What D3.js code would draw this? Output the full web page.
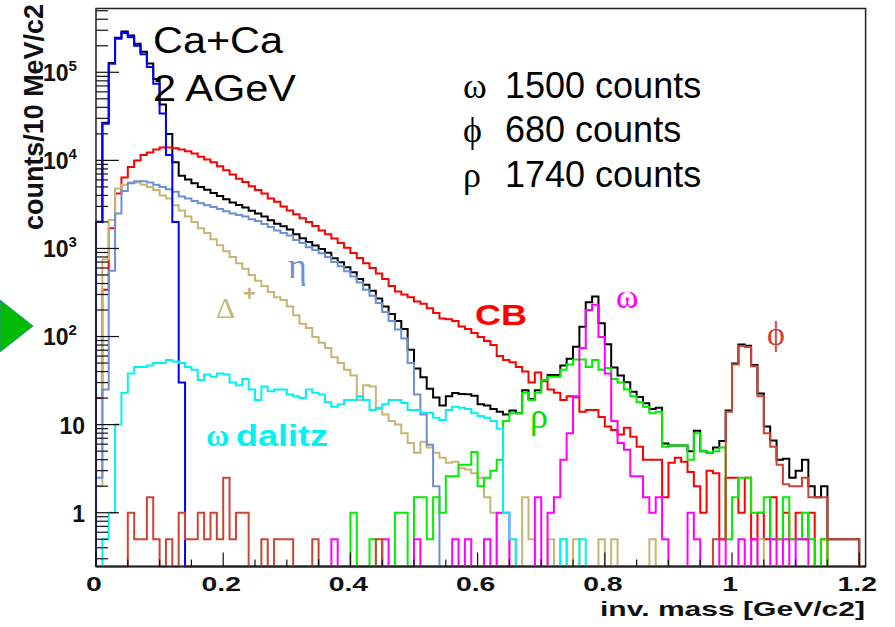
<!DOCTYPE html>
<html>
<head>
<meta charset="utf-8">
<script src="https://cdn.jsdelivr.net/npm/d3@7"></script>
<style>
  body { margin: 0; background: #ffffff; }
  svg { display: block; }
</style>
</head>
<body>
<svg id="chart" width="895" height="627"></svg>
<script>
// Dilepton invariant-mass cocktail, Ca+Ca at 2 AGeV, 10 MeV/c2 bins.
const binWidth = 0.01;
const nBins = 121;

const xTicks = [0, 0.2, 0.4, 0.6, 0.8, 1, 1.2];
const xTickLabels = ["0", "0.2", "0.4", "0.6", "0.8", "1", "1.2"];
const yTicks = [1, 10, 100, 1000, 10000, 100000];
const yTickBase = ["1", "10", "10", "10", "10", "10"];
const yTickExp = ["", "", "2", "3", "4", "5"];

// counts per bin; each list starts at the bin given by its *First constant
const totalFirst = 0;
const totalCounts = [
  2005, 26776, 127661, 247310, 289823, 261139, 211446, 171146, 125649, 83951,
  43050, 19955, 9552, 6681, 6046, 5493, 4983, 4638, 4256, 3929,
  3620, 3331, 3109, 2924, 2675, 2499, 2303, 2094, 1906, 1786,
  1643, 1446, 1310, 1180, 1083, 987, 892, 775, 697, 611,
  536, 450, 387, 332, 271, 220, 180, 150, 122, 71,
  43.5, 34.5, 25.5, 20.3, 16.5, 21, 22.9, 22.2, 22.1, 21.2,
  17, 16.5, 15, 14, 13, 14.5, 13.5, 24.5, 19.5, 24.5,
  32, 36.5, 36.5, 47, 56, 76.5, 129.5, 245, 284, 141.5,
  82, 44.5, 36.2, 30.2, 23.6, 20.6, 17.5, 15, 15.5, 6.1,
  5.8, 5.8, 5.8, 5, 8.5, 5, 4.8, 5.5, 6.5, 14.5,
  49.5, 81, 78.5, 47.5, 22.5, 9.5, 6.6, 4, 4.1, 2.5,
  3, 4, 2, 1.5, 2, 0.5, 0.5, 0.5, 0.5, 0.5
];

const cbFirst = 0;
const cbCounts = [
  20, 340, 1700, 4200, 6400, 8400, 10000, 11500, 12300, 13300,
  14000, 14000, 13700, 13300, 12700, 12000, 11000, 10200, 9500, 8600,
  7700, 6900, 6200, 5700, 5100, 4600, 4200, 3700, 3400, 3000,
  2700, 2450, 2200, 2000, 1800, 1600, 1450, 1300, 1150, 1020,
  890, 780, 680, 600, 520, 450, 375, 325, 300, 280,
  250, 235, 210, 185, 160, 157, 150, 130, 122, 110,
  99, 89, 80, 60, 54, 51, 45, 40, 30, 39,
  31, 25, 23, 19, 21, 20.5, 14, 14.7, 14.7, 12.2,
  9.5, 8.7, 7.7, 9.2, 7.3, 5.6, 4, 4, 4, 1.5,
  3.7, 4.2, 3.8, 2.9, 2, 1, 3, 2.8, 0.5, 2.5,
  2.5, 1, 2.5, 0.5, 1, 0.5, 1.5, 0.5, 1, 0.5,
  1, 0.5, 1, 0, 0.5
];

const deltaFirst = 0;
const deltaCounts = [
  2, 750, 2100, 4800, 5300, 5600, 5600, 5300, 5000, 4600,
  4000, 3700, 3100, 2700, 2300, 2000, 1700, 1500, 1270, 1090,
  930, 800, 680, 590, 500, 430, 375, 320, 280, 260,
  220, 175, 140, 125, 99, 85, 74, 58, 50, 42,
  36, 19, 28, 27, 15, 13, 11, 10, 8, 6.2,
  4.8, 6.4, 5.5, 4.8, 4.2, 3.7, 3.8, 3.2, 3.1, 2.8,
  2.5, 1.5, 1, 0, 0, 0.5, 0, 1.5, 0.5, 0,
  0, 0.5, 0, 0.5, 0, 0.5, 0, 0, 0, 0.5,
  0, 0.5, 0, 0, 0, 0, 0, 0.5, 0, 0,
  0, 0, 0, 0, 0, 0, 0, 0, 0, 0,
  0, 0, 0, 0, 0.5
];

const etaFirst = 0;
const etaCounts = [
  2.5, 25, 560, 2500, 4500, 5500, 5800, 5800, 5600, 5300,
  5000, 4700, 4400, 3900, 3700, 3450, 3250, 3100, 2950, 2800,
  2650, 2500, 2400, 2300, 2150, 2050, 1900, 1750, 1600, 1500,
  1400, 1250, 1150, 1030, 960, 880, 800, 700, 630, 550,
  480, 410, 340, 290, 240, 190, 150, 120, 95, 50,
  22, 13, 5.9, 2
];

const omegaDalitzFirst = 0;
const omegaDalitzCounts = [
  0, 0.5, 1, 10, 23, 38, 45, 45, 47, 50,
  50, 54, 52, 50, 45, 42, 32, 37, 35, 38,
  37, 30, 28, 33, 25, 19, 27, 24, 25, 25,
  22, 21, 20, 25, 23, 22, 18, 16, 17, 19,
  19, 21, 19, 14.7, 15.5, 17, 19, 19, 17.6, 14.7,
  14.7, 13.6, 13.6, 12, 11.3, 14.7, 16, 15.5, 15, 13.5,
  12.5, 12, 11, 9, 1, 0.5, 0, 0, 0, 0,
  0, 0, 0, 0.5, 0, 0, 0.5
];

const rhoFirst = 40;
const rhoCounts = [
  1, 0, 0, 0.5, 0, 0, 0, 1, 1, 0,
  1.5, 1.5, 0.5, 1.5, 1, 2.6, 2.6, 3.5, 3.5, 4.9,
  2, 2.5, 3, 4, 11, 13.5, 13.5, 23, 19, 23,
  32, 35, 35, 42, 48, 55, 55, 45, 54, 42,
  44, 33, 30, 25, 21, 18, 16, 13.5, 14, 5.6,
  5.8, 5.8, 5.8, 4, 8, 5, 4.8, 5, 5.5, 0.5,
  1.5, 2.5, 2.5, 1, 1, 1.5, 0.5, 0.5, 1.5, 0.5,
  0.5, 1, 0.5, 0, 0.5
];

const omegaFirst = 37;
const omegaCounts = [
  0.5, 0, 0,
  0, 0, 0, 0, 0, 0.5, 0, 0, 0, 0,
  0.5, 0, 0, 0, 0, 0, 0.5, 0, 0.5, 0,
  0, 0.5, 0, 1, 1, 0, 0, 0, 0, 1.5,
  0, 1, 1.5, 4, 8, 21, 74, 200, 230, 99,
  38, 11, 6.2, 5.2, 2.6, 2.6, 1.5, 1, 1.5, 0.5,
  0, 0, 0, 1, 0.5, 0, 0, 0, 0.5, 0,
  0, 0.5, 0, 0.5, 0, 0, 0.5, 0, 0.5, 0,
  0.5, 0.5
];

const phiFirst = 0;
const phiCounts = [
  0, 0, 0, 0, 0, 1, 0.5, 0.5, 1.5, 0.5,
  0, 0.5, 0, 1, 0.5, 0.5, 1, 0.5, 1, 0.5,
  2.5, 0.5, 1, 1, 0, 0, 0.5, 0, 0.5, 0.5,
  0.5, 0, 0, 0, 0.5, 0, 0, 0, 0, 0,
  0, 0, 0, 0, 0.5, 0, 0, 0, 0, 0,
  0, 0, 0, 0, 0, 0, 0, 0, 0, 0,
  0, 0, 0, 0, 0, 0, 0, 0, 0, 0,
  0, 0, 0, 0, 0, 0, 0, 0, 0, 0,
  0, 0, 0, 0, 0, 0, 0, 0, 0, 0,
  0, 0, 0, 0, 0, 0, 0, 0.5, 0.5, 14,
  48, 78, 76, 46, 21, 8, 5.6, 3.5, 2.1, 2,
  2, 2.5, 1.5, 1.5, 1.5, 0.5, 0.5, 0.5, 0.5, 0.5
];

const pi0First = 0;
const pi0Counts = [
  2000, 26000, 125000, 240000, 280000, 250000, 200000, 160000, 115000, 74000,
  34000, 11500, 2000, 30
];

function fullBins(first, counts) {
  const a = new Array(nBins).fill(0);
  counts.forEach((c, i) => { a[first + i] = c; });
  return a;
}

// drawing order: sum first, components over it
const histos = [
  { name: "total", color: "#000000", bins: fullBins(totalFirst, totalCounts) },
  { name: "CB", color: "#ff0000", bins: fullBins(cbFirst, cbCounts) },
  { name: "Delta", color: "#c6b673", bins: fullBins(deltaFirst, deltaCounts) },
  { name: "eta", color: "#6d8fd3", bins: fullBins(etaFirst, etaCounts) },
  { name: "rho", color: "#00f000", bins: fullBins(rhoFirst, rhoCounts) },
  { name: "pi0", color: "#0000ff", bins: fullBins(pi0First, pi0Counts) },
  { name: "omega", color: "#ff00ff", bins: fullBins(omegaFirst, omegaCounts) },
  { name: "omegaDalitz", color: "#00f2f2", bins: fullBins(omegaDalitzFirst, omegaDalitzCounts) },
  { name: "phi", color: "#cc4436", bins: fullBins(phiFirst, phiCounts) }
];

const svg = d3.select("#chart");
const W = 895, H = 627;
const plotLeft = 96, plotRight = 865.6, plotTop = 8.5, plotBottom = 566.5;

const x = d3.scaleLinear().domain([0, nBins * binWidth]).range([plotLeft, plotRight]);
const y = d3.scaleLog().domain([0.245, 5.3e5]).range([plotBottom, plotTop]);

const sans = "'Liberation Sans', Arial, Helvetica, sans-serif";
const serif = "'Liberation Serif', 'Times New Roman', serif";

svg.append("rect").attr("width", W).attr("height", H).attr("fill", "#ffffff");

// pointer marker at the left margin
svg.append("polygon")
  .attr("points", "0,300 33,326 0,352")
  .attr("fill", "#00bb00")
  .attr("stroke", "#2a8f8f")
  .attr("stroke-width", 1);

svg.append("defs").append("clipPath").attr("id", "plotClip")
  .append("rect").attr("x", plotLeft - 2).attr("y", plotTop)
  .attr("width", plotRight - plotLeft + 3).attr("height", plotBottom - plotTop + 2);

const line = d3.line();
function stepPoints(bins) {
  const pts = [[x(0), plotBottom]];
  bins.forEach((v, i) => {
    const yy = v > 0 ? y(v) : plotBottom;
    pts.push([x(i * binWidth), yy], [x((i + 1) * binWidth), yy]);
  });
  pts.push([x(bins.length * binWidth), plotBottom]);
  return pts;
}

const plot = svg.append("g").attr("clip-path", "url(#plotClip)");
histos.forEach(h => {
  plot.append("path")
    .attr("d", line(stepPoints(h.bins)))
    .attr("fill", "none")
    .attr("stroke", h.color)
    .attr("stroke-width", 2)
    .attr("stroke-linejoin", "miter");
});

// frame
svg.append("rect")
  .attr("x", plotLeft).attr("y", plotTop)
  .attr("width", plotRight - plotLeft).attr("height", plotBottom - plotTop)
  .attr("fill", "none").attr("stroke", "#222").attr("stroke-width", 1.5);

// x-axis ticks (inside the frame)
const ax = svg.append("g");
const xMinor = d3.range(0, 1.2001, 0.05);
xMinor.forEach(v => {
  const major = xTicks.some(t => Math.abs(t - v) < 1e-6);
  ax.append("line")
    .attr("x1", x(v)).attr("x2", x(v))
    .attr("y1", plotBottom).attr("y2", plotBottom - (major ? 14 : 7))
    .attr("stroke", "#111").attr("stroke-width", 1.2);
});
xTicks.forEach((v, i) => {
  ax.append("text")
    .attr("transform", `translate(${x(v) - 2},591) scale(1.35,1)`)
    .attr("text-anchor", "middle")
    .attr("font-family", sans).attr("font-weight", "bold").attr("font-size", 21)
    .attr("fill", "#111")
    .text(xTickLabels[i]);
});

// y-axis ticks (log)
const yMinor = [];
for (let e = -1; e <= 5; e++) {
  for (let m = 1; m <= 9; m++) {
    const v = m * Math.pow(10, e);
    if (v >= 0.245 && v <= 5.3e5) yMinor.push(v);
  }
}
yMinor.forEach(v => {
  const major = yTicks.some(t => Math.abs(t - v) / t < 1e-6);
  ax.append("line")
    .attr("x1", plotLeft).attr("x2", plotLeft + (major ? 23 : 12))
    .attr("y1", y(v)).attr("y2", y(v))
    .attr("stroke", "#111").attr("stroke-width", 1.2);
});
yTicks.forEach((v, i) => {
  const t = ax.append("text")
    .attr("font-family", sans).attr("font-weight", "bold").attr("font-size", 23)
    .attr("fill", "#111");
  if (yTickExp[i]) {
    t.attr("x", 43).attr("y", y(v) + 8.5).attr("text-anchor", "start");
    t.append("tspan").text(yTickBase[i]);
    t.append("tspan").attr("dy", -10).attr("font-size", 15).text(yTickExp[i]);
  } else {
    t.attr("x", 85).attr("y", y(v) + 9).attr("text-anchor", "end").text(yTickBase[i]);
  }
});

// axis titles
svg.append("text")
  .attr("transform", "translate(43,230) rotate(-90)")
  .attr("font-family", sans).attr("font-weight", "bold").attr("font-size", 27)
  .attr("textLength", 226).attr("lengthAdjust", "spacingAndGlyphs")
  .attr("fill", "#111")
  .text("counts/10 MeV/c2");

svg.append("text")
  .attr("x", 600).attr("y", 616)
  .attr("font-family", sans).attr("font-weight", "bold").attr("font-size", 21)
  .attr("textLength", 265).attr("lengthAdjust", "spacingAndGlyphs")
  .attr("fill", "#111")
  .text("inv. mass [GeV/c2]");

// system label
svg.append("text").attr("x", 153).attr("y", 53)
  .attr("font-family", sans).attr("font-size", 37)
  .attr("textLength", 130).attr("lengthAdjust", "spacingAndGlyphs")
  .text("Ca+Ca");
svg.append("text").attr("x", 153).attr("y", 101)
  .attr("font-family", sans).attr("font-size", 37)
  .attr("textLength", 143).attr("lengthAdjust", "spacingAndGlyphs")
  .text("2 AGeV");

// yields
const yieldGreek = ["ω", "ϕ", "ρ"];
const yieldText = ["1500 counts", "680 counts", "1740 counts"];
const yieldBase = [98, 142, 187];
yieldGreek.forEach((g, i) => {
  svg.append("text").attr("x", 463).attr("y", yieldBase[i])
    .attr("font-family", serif).attr("font-size", 36).text(g);
  svg.append("text").attr("x", 505).attr("y", yieldBase[i])
    .attr("font-family", sans).attr("font-size", 36).text(yieldText[i]);
});

// curve labels
svg.append("text").attr("x", 288).attr("y", 278)
  .attr("font-family", serif).attr("font-size", 36).attr("fill", "#6d8fd3").text("η");
svg.append("text").attr("x", 216).attr("y", 318)
  .attr("font-family", serif).attr("font-size", 30).attr("fill", "#c6b673").text("Δ");
svg.append("text").attr("x", 243).attr("y", 301)
  .attr("font-family", sans).attr("font-weight", "bold").attr("font-size", 22).attr("fill", "#c6b673").text("+");
svg.append("text").attr("x", 475).attr("y", 325)
  .attr("font-family", sans).attr("font-weight", "bold").attr("font-size", 30)
  .attr("textLength", 52).attr("lengthAdjust", "spacingAndGlyphs")
  .attr("fill", "#ff0000").text("CB");
svg.append("text").attr("x", 616).attr("y", 308)
  .attr("font-family", serif).attr("font-size", 34).attr("fill", "#ff00ff").text("ω");
svg.append("text").attr("x", 767).attr("y", 345)
  .attr("font-family", serif).attr("font-size", 34).attr("fill", "#cc4436").text("ϕ");
svg.append("text").attr("x", 530).attr("y", 428)
  .attr("font-family", serif).attr("font-size", 36).attr("fill", "#00e000").text("ρ");
svg.append("text").attr("x", 206).attr("y", 446)
  .attr("font-family", serif).attr("font-weight", "bold").attr("font-size", 32).attr("fill", "#00f2f2").text("ω");
svg.append("text").attr("x", 236).attr("y", 446)
  .attr("font-family", sans).attr("font-weight", "bold").attr("font-size", 30)
  .attr("textLength", 92).attr("lengthAdjust", "spacingAndGlyphs")
  .attr("fill", "#00f2f2").text("dalitz");
</script>
</body>
</html>
